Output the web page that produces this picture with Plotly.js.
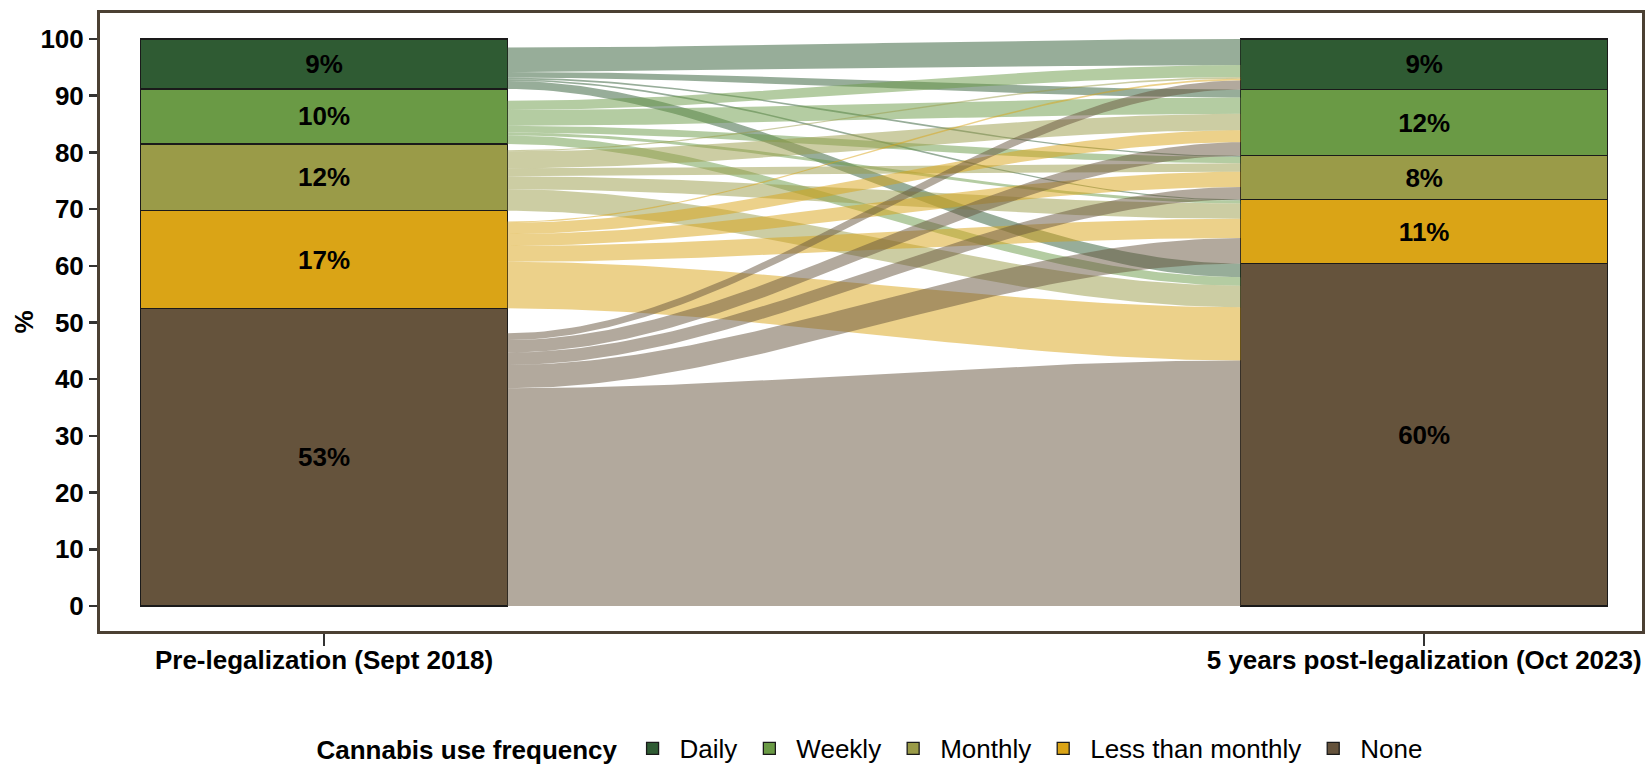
<!DOCTYPE html>
<html lang="en">
<head>
    <meta charset="UTF-8">
    <title>Cannabis use frequency, pre and post legalization</title>
    <script src="https://cdn.plot.ly/plotly-3.0.1.min.js"></script>
    <style>
        body { margin: 0; background: #fff; }
        #chart { width: 1648px; height: 765px; }
    </style>
</head>
<body>
    <div id="chart"></div>

    <script>
        // categories (top to bottom in each stratum column)
        const categories = ['Daily', 'Weekly', 'Monthly', 'Less than monthly', 'None'];
        const waves = ['Pre-legalization (Sept 2018)', '5 years post-legalization (Oct 2023)'];
        const colors = ['#2f5b33', '#6a9a45', '#9a9b48', '#daa416', '#65533c'];

        // stratum shares (%)
        const preShare = [8.8, 9.7, 11.8, 17.2, 52.5];
        const postShare = [8.9, 11.7, 7.7, 11.3, 60.4];
        const preLabels = ['9%', '10%', '12%', '17%', '53%'];
        const postLabels = ['9%', '12%', '8%', '11%', '60%'];

        // flow widths: row = 2018 category, column = 2023 category
        const flowPre = [
            [4.3, 1.0, 0.3, 0.3, 1.4],
            [1.6, 2.8, 1.2, 0.5, 1.5],
            [0.2, 3.0, 1.4, 2.3, 3.8],
            [0.2, 2.0, 2.1, 2.8, 8.2],
            [1.2, 2.2, 2.2, 4.1, 38.4]
        ];
        const flowPost = [
            [4.6, 1.4, 0.2, 0.2, 2.4],
            [2.1, 2.9, 1.1, 0.5, 1.5],
            [0.3, 2.9, 1.5, 2.7, 3.8],
            [0.3, 2.1, 2.7, 3.4, 9.4],
            [1.6, 2.4, 2.2, 4.5, 43.3]
        ];

        const barWidth = 1 / 3;
        const n = categories.length;

        // bottom of each stratum (None sits at the bottom of the stack)
        function bottoms(shares) {
            const b = [];
            let acc = 0;
            for (let i = shares.length - 1; i >= 0; i--) { b[i] = acc; acc += shares[i]; }
            return b;
        }
        const preBottom = bottoms(preShare);
        const postBottom = bottoms(postShare);

        // flows are stacked from the stratum bottom up, None first
        const preLo = [], postLo = [];
        for (let i = 0; i < n; i++) { preLo.push([]); postLo.push([]); }
        for (let i = 0; i < n; i++) {
            let acc = preBottom[i];
            for (let j = n - 1; j >= 0; j--) { preLo[i][j] = acc; acc += flowPre[i][j]; }
        }
        for (let j = 0; j < n; j++) {
            let acc = postBottom[j];
            for (let i = n - 1; i >= 0; i--) { postLo[i][j] = acc; acc += flowPost[i][j]; }
        }

        function hexToRgba(hex, a) {
            const v = parseInt(hex.slice(1), 16);
            return `rgba(${(v >> 16) & 255},${(v >> 8) & 255},${v & 255},${a})`;
        }

        const x0 = 1 + barWidth / 2, x1 = 2 - barWidth / 2;
        const steps = 80;
        const traces = [];

        // flows, coloured by 2018 category
        for (let i = 0; i < n; i++) {
            for (let j = 0; j < n; j++) {
                const aLo = preLo[i][j], aHi = aLo + flowPre[i][j];
                const bLo = postLo[i][j], bHi = bLo + flowPost[i][j];
                const xs = [], ys = [];
                for (let k = 0; k <= steps; k++) {
                    const t = k / steps, s = t * t * (3 - 2 * t);
                    xs.push(x0 + (x1 - x0) * t);
                    ys.push(aHi + (bHi - aHi) * s);
                }
                for (let k = steps; k >= 0; k--) {
                    const t = k / steps, s = t * t * (3 - 2 * t);
                    xs.push(x0 + (x1 - x0) * t);
                    ys.push(aLo + (bLo - aLo) * s);
                }
                traces.push({
                    type: 'scatter', x: xs, y: ys, mode: 'lines',
                    fill: 'toself', fillcolor: hexToRgba(colors[i], 0.5),
                    line: { width: 0 }, hoverinfo: 'skip', showlegend: false
                });
            }
        }

        // strata, stacked from None upward
        for (let i = n - 1; i >= 0; i--) {
            traces.push({
                type: 'bar', name: categories[i],
                x: [1, 2], y: [preShare[i], postShare[i]],
                width: barWidth,
                text: [preLabels[i], postLabels[i]],
                textposition: 'inside', insidetextanchor: 'middle', textangle: 0,
                constraintext: 'none',
                textfont: { size: 26, color: '#000', weight: 'bold' },
                marker: { color: colors[i], line: { color: '#1a1a1a', width: 1.3 } },
                legendrank: i + 1,
                hoverinfo: 'skip'
            });
        }

        const layout = {
            width: 1648, height: 765,
            margin: { l: 100, r: 6, t: 13, b: 134, autoexpand: false },
            paper_bgcolor: '#fff', plot_bgcolor: '#fff',
            font: { family: 'Liberation Sans, Arial, sans-serif', size: 26, color: '#000' },
            barmode: 'stack', bargap: 0,
            hovermode: false,
            xaxis: {
                range: [0.7964, 2.198],
                tickvals: [1, 2], ticktext: waves,
                ticks: 'outside', ticklen: 12, tickwidth: 2, tickcolor: '#333',
                ticklabelstandoff: -8,
                tickfont: { size: 26, weight: 'bold' },
                showgrid: false, zeroline: false, automargin: false,
                showline: true, mirror: true, linecolor: '#4b4033', linewidth: 3
            },
            yaxis: {
                range: [-4.41, 104.59],
                tickvals: [0, 10, 20, 30, 40, 50, 60, 70, 80, 90, 100],
                ticks: 'outside', ticklen: 8, tickwidth: 2.5, tickcolor: '#333',
                tickfont: { size: 26, weight: 'bold' },
                title: { text: '%', font: { size: 26, weight: 'bold' }, standoff: 0 },
                showgrid: false, zeroline: false, automargin: false,
                showline: true, mirror: true, linecolor: '#4b4033', linewidth: 3
            },
            showlegend: true,
            legend: {
                orientation: 'h', traceorder: 'normal',
                x: 0.5, xanchor: 'center', y: -0.19, yanchor: 'middle',
                itemwidth: 44,
                title: { text: 'Cannabis use frequency', side: 'left', font: { size: 26, weight: 'bold' } },
                font: { size: 26 }
            }
        };

        Plotly.newPlot('chart', traces, layout, { displayModeBar: false, staticPlot: true });
    </script>
</body>
</html>
